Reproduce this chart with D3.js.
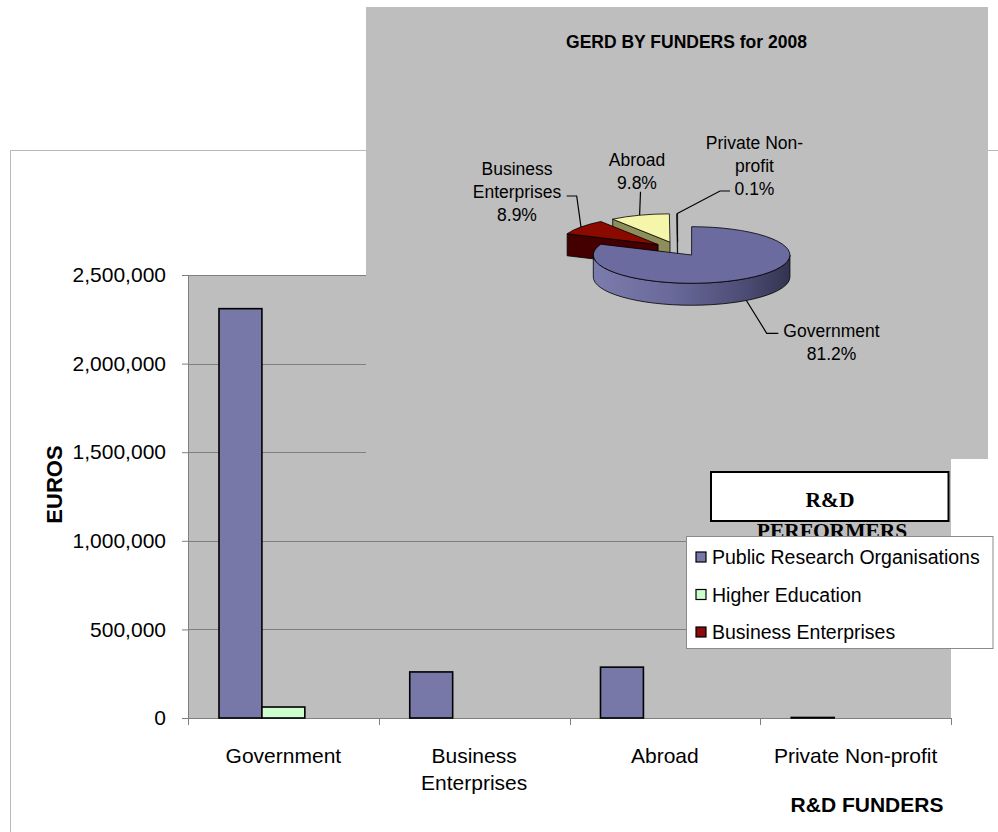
<!DOCTYPE html>
<html>
<head>
<meta charset="utf-8">
<script src="https://cdn.jsdelivr.net/npm/d3@7"></script>
<style>
  body { margin: 0; background: #fff; }
  svg { display: block; font-family: "Liberation Sans", Arial, sans-serif; }
</style>
</head>
<body>
<div id="chart"></div>
<script>
// Chart data
const funders = ['Government', 'Business Enterprises', 'Abroad', 'Private Non-profit'];
const performers = ['Public Research Organisations', 'Higher Education', 'Business Enterprises'];
const proValues = [2310000, 260000, 287000, 3000];
const heValues = [62000, 0, 0, 0];
const beValues = [0, 0, 0, 0];
const yTicks = [0, 500000, 1000000, 1500000, 2000000, 2500000];

const pieShares = [81.2, 8.9, 9.8, 0.1];
const pieLabelLines = [['Government'], ['Business', 'Enterprises'], ['Abroad'], ['Private Non-', 'profit']];

const seriesValues = [proValues, heValues, beValues];
const barColors = ['#7878a8', '#ccffcc', '#8b0a0a'];
const pieTop = ['#6b6ba0', '#8b0a00', '#f6f6aa', '#eeffff'];
const pieSide = ['url(#govWall)', '#440000', '#8e8e5c', '#b0c4c4'];

const width = 998, height = 832;
const plot = { left: 188, right: 951, top: 275, bottom: 718 };

const svg = d3.select('#chart').append('svg')
    .attr('width', width)
    .attr('height', height);

const defs = svg.append('defs');

// outer chart frame
svg.append('path')
    .attr('d', 'M10.5,832V150.5H998')
    .attr('fill', 'none')
    .attr('stroke', '#b8b8b8');

// scales
const x = d3.scaleBand().domain(funders).range([plot.left, plot.right]);
const bw = x.bandwidth();
const xs = d3.scaleBand().domain(performers).range([bw * 0.1625, bw * 0.8375]);
const y = d3.scaleLinear().domain([0, 2500000]).range([plot.bottom, plot.top]);

// plot area
svg.append('rect')
    .attr('x', plot.left).attr('y', plot.top)
    .attr('width', plot.right - plot.left).attr('height', plot.bottom - plot.top)
    .attr('fill', '#bebebe');

svg.append('g').selectAll('line')
    .data(yTicks.filter(d => d > 0))
    .join('line')
    .attr('x1', plot.left).attr('x2', plot.right)
    .attr('y1', d => Math.round(y(d)) + 0.5).attr('y2', d => Math.round(y(d)) + 0.5)
    .attr('stroke', '#7f7f7f');

// y axis
const yAxis = svg.append('g')
    .attr('transform', `translate(${plot.left},0)`)
    .call(d3.axisLeft(y).tickValues(yTicks).tickFormat(d3.format(',')).tickSize(6).tickSizeOuter(0).tickPadding(16));
yAxis.selectAll('text').attr('font-size', 21).attr('font-family', '"Liberation Sans", Arial, sans-serif').attr('fill', '#000');
yAxis.selectAll('line, path').attr('stroke', '#7f7f7f');

// x axis
svg.append('line')
    .attr('x1', plot.left - 6).attr('x2', plot.right)
    .attr('y1', plot.bottom + 0.5).attr('y2', plot.bottom + 0.5)
    .attr('stroke', '#7f7f7f');
svg.append('g').selectAll('line')
    .data(funders.map(d => x(d)).concat([plot.right]))
    .join('line')
    .attr('x1', d => Math.round(d) + 0.5).attr('x2', d => Math.round(d) + 0.5)
    .attr('y1', plot.bottom).attr('y2', plot.bottom + 7)
    .attr('stroke', '#7f7f7f');

const xLabels = svg.append('g').selectAll('text')
    .data(funders)
    .join('text')
    .attr('x', d => x(d) + bw / 2)
    .attr('y', 763)
    .attr('text-anchor', 'middle')
    .attr('font-size', 21)
    .text(d => d);
xLabels.each(function(d) {
    const t = d3.select(this);
    if (this.getComputedTextLength() > 180) {
        const words = d.split(' ');
        t.text(null);
        words.forEach((w, i) => {
            t.append('tspan').attr('x', x(d) + bw / 2).attr('dy', i ? 27 : 0).text(w);
        });
    }
});

// bars
const bars = [];
seriesValues.forEach((vals, si) => {
    vals.forEach((v, ci) => {
        if (v > 0) bars.push({ s: si, c: ci, v: v });
    });
});
svg.append('g').selectAll('rect')
    .data(bars)
    .join('rect')
    .attr('x', d => x(funders[d.c]) + xs(performers[d.s]))
    .attr('width', xs.bandwidth())
    .attr('y', d => y(d.v))
    .attr('height', d => y(0) - y(d.v))
    .attr('fill', d => barColors[d.s])
    .attr('stroke', '#000')
    .attr('stroke-width', 1.6);

// axis titles
svg.append('text')
    .attr('transform', 'translate(62,484.5) rotate(-90)')
    .attr('text-anchor', 'middle')
    .attr('font-size', 22)
    .attr('font-weight', 'bold')
    .text('EUROS');
svg.append('text')
    .attr('x', 867).attr('y', 812)
    .attr('text-anchor', 'middle')
    .attr('font-size', 21)
    .attr('font-weight', 'bold')
    .text('R&D FUNDERS');

// pie chart panel
svg.append('rect')
    .attr('x', 366).attr('y', 7)
    .attr('width', 622).attr('height', 452)
    .attr('fill', '#bebebe');
svg.append('text')
    .attr('x', 686.5).attr('y', 48)
    .attr('text-anchor', 'middle')
    .attr('font-size', 17.5)
    .attr('font-weight', 'bold')
    .text('GERD BY FUNDERS for 2008');

// 3D pie
const P = { cx: 677.7, cy: 249, rx: 98.3, ry: 28.3, depth: 22, explode: 25 };
const slices = d3.pie().sort(null).value(d => d)(pieShares);

const grad = defs.append('linearGradient')
    .attr('id', 'govWall')
    .attr('gradientUnits', 'userSpaceOnUse')
    .attr('x1', P.cx - P.rx).attr('x2', P.cx + P.rx + 30)
    .attr('y1', 0).attr('y2', 0);
[['0%', '#7e7eb0'], ['40%', '#6a6a9a'], ['75%', '#4a4a72'], ['100%', '#2a2a42']].forEach(s => {
    grad.append('stop').attr('offset', s[0]).attr('stop-color', s[1]);
});

function offsetOf(s) {
    const a = (s.startAngle + s.endAngle) / 2;
    return [P.explode * Math.sin(a), -P.explode * Math.cos(a) * P.ry / P.rx];
}
function pt(a, o, dz) {
    return [P.cx + o[0] + P.rx * Math.sin(a), P.cy + o[1] - P.ry * Math.cos(a) + (dz || 0)];
}
function topPath(s, o) {
    const c = [P.cx + o[0], P.cy + o[1]];
    const large = s.endAngle - s.startAngle > Math.PI ? 1 : 0;
    return `M${c}L${pt(s.startAngle, o)}A${P.rx},${P.ry} 0 ${large} 1 ${pt(s.endAngle, o)}Z`;
}
function wallPath(a, b, o) {
    const large = b - a > Math.PI ? 1 : 0;
    return `M${pt(a, o)}A${P.rx},${P.ry} 0 ${large} 1 ${pt(b, o)}` +
        `L${pt(b, o, P.depth)}A${P.rx},${P.ry} 0 ${large} 0 ${pt(a, o, P.depth)}Z`;
}
function facePath(a, o) {
    const c = [P.cx + o[0], P.cy + o[1]];
    const cb = [c[0], c[1] + P.depth];
    return `M${c}L${pt(a, o)}L${pt(a, o, P.depth)}L${cb}Z`;
}

const order = slices.map((s, i) => i).sort((a, b) => offsetOf(slices[a])[1] - offsetOf(slices[b])[1]);
const pieG = svg.append('g').attr('stroke', '#000').attr('stroke-width', 0.8).attr('stroke-linejoin', 'round');
order.forEach(i => {
    const s = slices[i];
    const o = offsetOf(s);
    const g = pieG.append('g');
    if (Math.sin(s.startAngle) < -1e-6) {
        g.append('path').attr('d', facePath(s.startAngle, o)).attr('fill', pieSide[i]);
    }
    if (Math.sin(s.endAngle) > 1e-6) {
        g.append('path').attr('d', facePath(s.endAngle, o)).attr('fill', pieSide[i]);
    }
    const a = Math.max(s.startAngle, Math.PI / 2), b = Math.min(s.endAngle, 3 * Math.PI / 2);
    if (b > a) {
        g.append('path').attr('d', wallPath(a, b, o)).attr('fill', pieSide[i]);
    }
    g.append('path').attr('d', topPath(s, o)).attr('fill', pieTop[i]);
});

// pie labels with leader lines
const labelPos = [
    { x: 831.5, y: 337, elbow: [[766.7, 333.3], [778.3, 333.3]] },
    { x: 517, y: 174.5, elbow: [[576.7, 196], [566.7, 196]] },
    { x: 637, y: 166, elbow: [[640.5, 191.7]] },
    { x: 754.5, y: 149, elbow: [[720, 191], [730, 191]] }
];
const pctFmt = d => d3.format('.1f')(d) + '%';
slices.forEach((s, i) => {
    const o = offsetOf(s);
    const mid = (s.startAngle + s.endAngle) / 2;
    const start = pt(mid, o, Math.cos(mid) < 0 ? P.depth : 0);
    svg.append('path')
        .attr('d', d3.line()([start].concat(labelPos[i].elbow)))
        .attr('fill', 'none')
        .attr('stroke', '#000')
        .attr('stroke-width', 1.2);
    const lines = pieLabelLines[i].concat([pctFmt(pieShares[i])]);
    const t = svg.append('text')
        .attr('text-anchor', 'middle')
        .attr('font-size', 17.5);
    lines.forEach((l, k) => {
        t.append('tspan').attr('x', labelPos[i].x).attr('y', labelPos[i].y + k * 23).text(l);
    });
});

// legend title box
svg.append('rect')
    .attr('x', 711).attr('y', 472)
    .attr('width', 237.5).attr('height', 49)
    .attr('fill', '#fff')
    .attr('stroke', '#000')
    .attr('stroke-width', 2);
svg.append('text')
    .attr('x', 830).attr('y', 506.5)
    .attr('text-anchor', 'middle')
    .attr('font-family', '"Liberation Serif", "Times New Roman", serif')
    .attr('font-weight', 'bold')
    .attr('font-size', 21.5)
    .text('R&D');
svg.append('text')
    .attr('x', 832).attr('y', 538)
    .attr('text-anchor', 'middle')
    .attr('font-family', '"Liberation Serif", "Times New Roman", serif')
    .attr('font-weight', 'bold')
    .attr('font-size', 21.5)
    .text('PERFORMERS');

// legend
const legend = svg.append('g').attr('transform', 'translate(686.5,536.5)');
legend.append('rect')
    .attr('width', 306.5).attr('height', 112)
    .attr('fill', '#fff')
    .attr('stroke', '#8a8a8a');
const item = legend.selectAll('g.item')
    .data(performers)
    .join('g')
    .attr('class', 'item')
    .attr('transform', (d, i) => `translate(0,${20.5 + i * 37.5})`);
item.append('rect')
    .attr('x', 9.5).attr('y', -5)
    .attr('width', 10).attr('height', 10)
    .attr('fill', (d, i) => barColors[i])
    .attr('stroke', '#000')
    .attr('stroke-width', 1.2);
item.append('text')
    .attr('x', 25.5).attr('y', 7)
    .attr('font-size', 19.5)
    .text(d => d);
</script>
</body>
</html>
